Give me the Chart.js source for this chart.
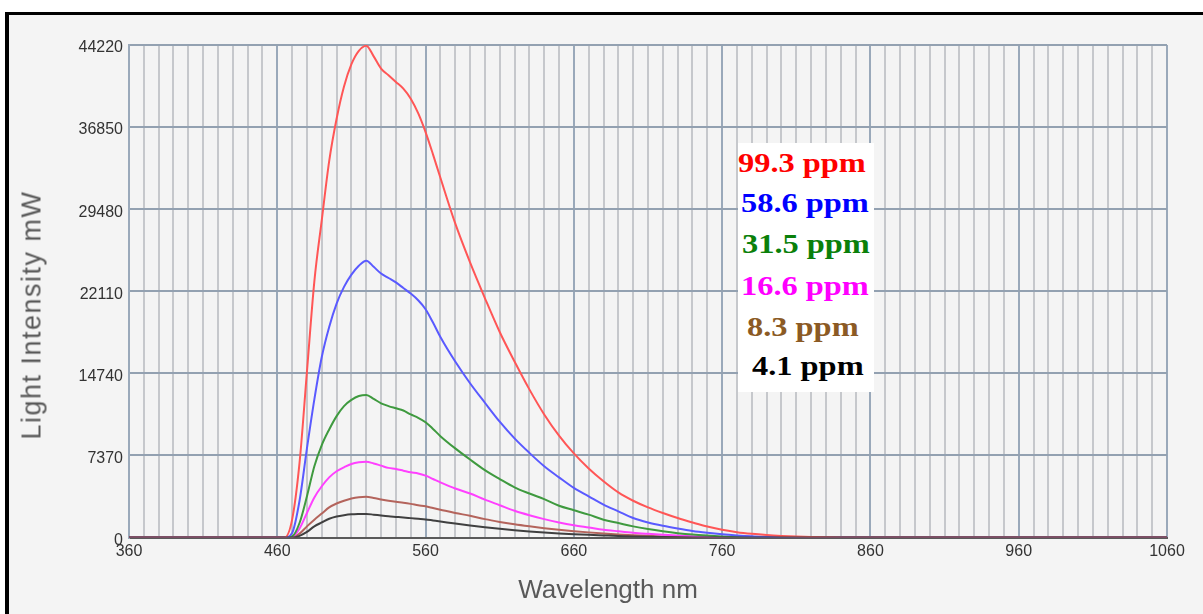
<!DOCTYPE html>
<html>
<head>
<meta charset="utf-8">
<script src="https://cdn.jsdelivr.net/npm/chart.js@4/dist/chart.umd.min.js"></script>
<style>
  html, body { margin: 0; padding: 0; background: #fff; width: 1203px; height: 614px; overflow: hidden; }
  #frame { position: absolute; left: 5px; top: 12px; right: 0; bottom: 0; background: #f4f4f4;
           border-left: 4px solid #000; border-top: 3px solid #000; }
  #chartSpectrum { position: absolute; left: 0; top: 0; }
  .axis-title { position: absolute; font-family: 'Liberation Sans', Arial, sans-serif; color: #595959;
                white-space: nowrap; line-height: 1; }
  #xTitle { left: 608px; top: 589px; font-size: 26px; transform: translate(-50%, -50%); }
  #yTitle { left: 32px; top: 315px; font-size: 27px; letter-spacing: 1.5px; transform: translate(-50%, -50%) rotate(-90deg); }
  #legendBox { position: absolute; left: 738px; top: 143px; width: 136px; height: 249px; background: #fff; }
  .legend-item { position: absolute; font-family: 'Liberation Serif', 'Times New Roman', serif; font-weight: bold;
                 font-size: 27px; line-height: 27px; white-space: nowrap; transform: scaleX(1.2); transform-origin: left center; }
</style>
</head>
<body>
<div id="frame"></div>
<canvas id="chartSpectrum" width="1203" height="614"></canvas>
<div id="xTitle" class="axis-title">Wavelength nm</div>
<div id="yTitle" class="axis-title">Light Intensity mW</div>
<div id="legendBox"></div>
<script>
/* eslint-disable no-new */
/* eslint-disable no-undef */
const wavelengths = [360, 460, 465, 470, 475, 480, 485, 490, 495, 500,
  505, 510, 515, 520, 525, 530, 535, 540, 545, 550,
  555, 560, 565, 570, 580, 590, 600, 610, 620, 630,
  640, 650, 660, 670, 680, 690, 700, 710, 720, 730,
  740, 750, 760, 770, 780, 790, 800, 810, 820, 830,
  840, 1060];

const ppm993 = [0, 0, 0, 1600, 6700, 14900, 23000, 28500, 33800, 37600,
  40500, 42500, 43700, 44150, 43200, 42100, 41500, 40900, 40300, 39400,
  38100, 36400, 34400, 32300, 28200, 24700, 21500, 18450, 15800, 13300,
  11050, 9150, 7550, 6200, 5050, 4050, 3300, 2700, 2200, 1750,
  1350, 980, 700, 480, 330, 220, 140, 80, 40, 15,
  0, 0];

const ppm586 = [0, 0, 0, 400, 3300, 8000, 12400, 16200, 18900, 21000,
  22500, 23600, 24400, 24850, 24300, 23700, 23300, 22900, 22400, 21900,
  21300, 20500, 19300, 18000, 15800, 13850, 12100, 10400, 8900, 7600,
  6400, 5400, 4450, 3700, 2950, 2350, 1750, 1350, 1050, 800,
  580, 420, 290, 190, 110, 60, 25, 0, 0, 0,
  0, 0];

const ppm315 = [0, 0, 0, 100, 1300, 3700, 6400, 8300, 9700, 10900,
  11800, 12350, 12700, 12800, 12450, 12050, 11800, 11600, 11400, 11050,
  10750, 10350, 9750, 9100, 8000, 7000, 6050, 5250, 4500, 3950,
  3450, 2850, 2450, 2050, 1600, 1300, 1000, 760, 560, 390,
  260, 170, 100, 50, 20, 0, 0, 0, 0, 0,
  0, 0];

const ppm166 = [0, 0, 0, 50, 800, 2200, 3600, 4600, 5400, 5950,
  6300, 6600, 6750, 6800, 6650, 6450, 6250, 6150, 6000, 5850,
  5750, 5550, 5250, 4950, 4400, 3950, 3400, 2900, 2400, 2000,
  1650, 1350, 1100, 900, 700, 560, 430, 330, 240, 170,
  110, 60, 30, 0, 0, 0, 0, 0, 0, 0,
  0, 0];

const ppm83 = [0, 0, 0, 20, 350, 1000, 1600, 2150, 2700, 3050,
  3300, 3500, 3620, 3660, 3550, 3420, 3300, 3200, 3120, 3020,
  2900, 2800, 2650, 2500, 2200, 1950, 1650, 1400, 1180, 1000,
  840, 700, 570, 460, 360, 280, 210, 150, 100, 60,
  30, 10, 0, 0, 0, 0, 0, 0, 0, 0,
  0, 0];

const ppm41 = [0, 0, 0, 0, 150, 500, 1000, 1350, 1680, 1880,
  2000, 2080, 2110, 2120, 2050, 1970, 1900, 1850, 1800, 1740,
  1680, 1620, 1530, 1440, 1250, 1080, 920, 780, 650, 540,
  450, 370, 300, 240, 190, 140, 100, 70, 45, 25,
  10, 0, 0, 0, 0, 0, 0, 0, 0, 0,
  0, 0];

const seriesLabels = ['99.3 ppm', '58.6 ppm', '31.5 ppm', '16.6 ppm', '8.3 ppm', '4.1 ppm'];
const xTickLabels = [360, 460, 560, 660, 760, 860, 960, 1060];
const yTickLabels = [0, 7370, 14740, 22110, 29480, 36850, 44220];

const seriesValues = [ppm993, ppm586, ppm315, ppm166, ppm83, ppm41];
const lineColors = ['#ff5656', '#5a5aff', '#3f9a3f', '#ff40ff', '#b4645c', '#404040'];
const textColors = ['#ff0000', '#0000ff', '#0a800a', '#ff00ff', '#8b5a24', '#000000'];
const legendTops = [150, 190, 231, 273, 314, 353];
const legendLefts = [738, 741, 742, 741, 747, 752];

const legendBox = document.getElementById('legendBox');
seriesLabels.forEach(function (label, i) {
  const el = document.createElement('div');
  el.className = 'legend-item';
  el.textContent = label;
  el.style.color = textColors[i];
  el.style.left = (legendLefts[i] - 738) + 'px';
  el.style.top = (legendTops[i] - 143) + 'px';
  legendBox.appendChild(el);
});

Chart.defaults.font.family = "'Liberation Sans', Arial, sans-serif";

window.onload = function () {
  const ctx = document.getElementById('chartSpectrum').getContext('2d');
  new Chart(ctx, {
    type: 'line',
    data: {
      datasets: seriesValues.map(function (values, i) {
        return {
          label: seriesLabels[i],
          data: wavelengths.map(function (w, j) { return { x: w, y: values[j] }; }),
          borderColor: lineColors[i],
          borderWidth: 2,
          pointRadius: 0,
          fill: false,
          cubicInterpolationMode: 'monotone',
          order: i === 5 ? -1 : 0
        };
      })
    },
    options: {
      responsive: false,
      animation: false,
      devicePixelRatio: 1,
      layout: { padding: { left: 0, top: 45, right: 36, bottom: 0 } },
      plugins: {
        legend: { display: false },
        tooltip: { enabled: false }
      },
      scales: {
        x: {
          type: 'linear',
          min: 360,
          max: 1060,
          afterBuildTicks: function (scale) {
            const ticks = [];
            for (let v = 360; v <= 1060; v += 10) ticks.push({ value: v });
            scale.ticks = ticks;
          },
          afterFit: function (scale) { scale.height = 76.5; },
          ticks: {
            autoSkip: false,
            maxRotation: 0,
            padding: 4,
            color: '#333',
            font: { size: 16 },
            callback: function (value) {
              return xTickLabels.indexOf(value) >= 0 ? String(value) : '';
            }
          },
          grid: {
            drawTicks: false,
            color: function (c) {
              return c.tick && xTickLabels.indexOf(c.tick.value) >= 0 ? '#9aa9ba' : '#c6c8cc';
            },
            lineWidth: 2
          },
          border: { color: '#5a5a5a', width: 2 }
        },
        y: {
          min: 0,
          max: 44220,
          afterBuildTicks: function (scale) {
            scale.ticks = yTickLabels.map(function (v) { return { value: v }; });
          },
          afterFit: function (scale) { scale.width = 129; },
          ticks: {
            padding: 6,
            labelOffset: 3,
            color: '#333',
            font: { size: 16 },
            callback: function (value) { return String(value); }
          },
          grid: {
            drawTicks: false,
            color: '#93a1b1',
            lineWidth: 2
          },
          border: { color: '#9aa9ba', width: 2 }
        }
      }
    }
  });
};
</script>
</body>
</html>
